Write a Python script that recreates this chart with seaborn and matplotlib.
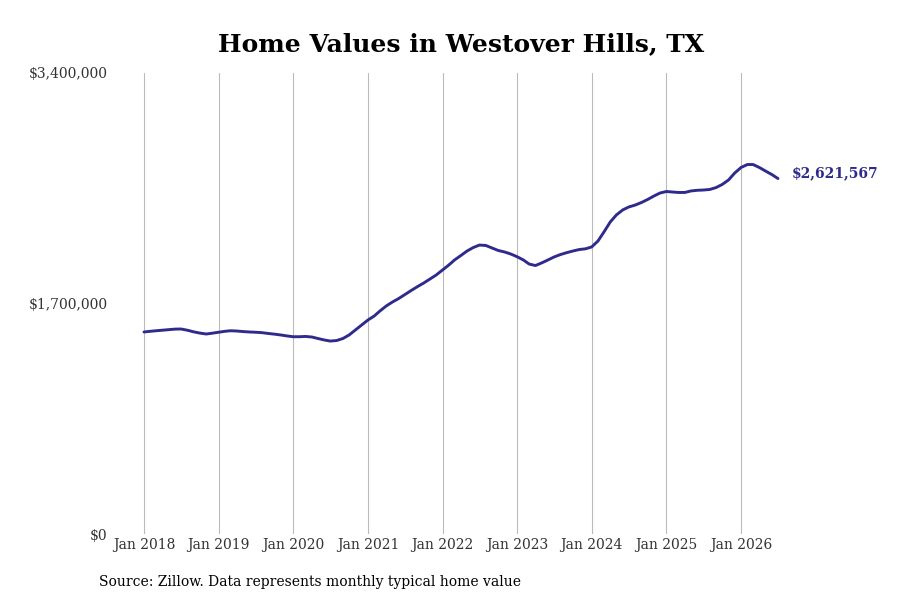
import pandas as pd
import numpy as np
import matplotlib.pyplot as plt
import matplotlib.dates as mdates
import seaborn as sns

# monthly typical home value, Jan 2018 - Jul 2026 (thousands of $)
values_2018 = [1490, 1495, 1499, 1503, 1507, 1511, 1512, 1503, 1491, 1482, 1475, 1481]
values_2019 = [1488, 1495, 1499, 1497, 1493, 1490, 1488, 1485, 1479, 1474, 1468, 1461]
values_2020 = [1455, 1455, 1457, 1453, 1442, 1431, 1423, 1427, 1442, 1468, 1505, 1541]
values_2021 = [1578, 1608, 1645, 1682, 1711, 1737, 1766, 1796, 1825, 1851, 1881, 1910]
values_2022 = [1947, 1984, 2021, 2054, 2087, 2113, 2131, 2128, 2109, 2091, 2080, 2065]
values_2023 = [2045, 2021, 1991, 1980, 1999, 2021, 2043, 2061, 2075, 2087, 2098, 2103]
values_2024 = [2117, 2161, 2227, 2301, 2353, 2390, 2412, 2426, 2445, 2467, 2493, 2515]
values_2025 = [2526, 2522, 2519, 2519, 2530, 2535, 2537, 2541, 2555, 2578, 2611, 2662]
values_2026 = [2703, 2725, 2725, 2703, 2677, 2651, 2621.567]

values = (values_2018 + values_2019 + values_2020 + values_2021 + values_2022
          + values_2023 + values_2024 + values_2025 + values_2026)
dates = pd.date_range("2018-01-01", periods=len(values), freq="MS")
df = pd.DataFrame({"date": dates, "value": np.array(values) * 1000})

tick_years = list(range(2018, 2027))
y_ticks = [0, 1700000, 3400000]
y_labels = ["$0", "$1,700,000", "$3,400,000"]
last_label = "$2,621,567"

sns.set_style("white")
plt.rcParams["font.family"] = ["DejaVu Serif"]

line_color = "#2e2b8c"

fig = plt.figure(figsize=(9, 6), dpi=100)
ax = fig.add_axes([112 / 900, 66 / 600, 768 / 900, 461 / 600])

sns.lineplot(data=df, x="date", y="value", ax=ax, color=line_color, linewidth=2.1)

# x range: Jan 2018 sits 32px in from the left edge
px_per_day = (741 - 144) / 8 / 365.25
x0 = mdates.date2num(pd.Timestamp("2018-01-01"))
ax.set_xlim(x0 - 32 / px_per_day, x0 + (880 - 144) / px_per_day)
ax.set_ylim(0, 3400000)

tick_dates = [pd.Timestamp(f"{y}-01-01") for y in tick_years]
ax.set_xticks(tick_dates)
ax.set_xticklabels([f"Jan {y}" for y in tick_years], fontsize=10, color="#333333")
ax.set_yticks(y_ticks)
ax.set_yticklabels(y_labels, fontsize=10, color="#333333")
ax.tick_params(axis="both", length=0)
ax.tick_params(axis="x", pad=3)
ax.tick_params(axis="y", pad=3)

ax.grid(axis="x", color="#bbbbbb", linewidth=0.8)
ax.grid(axis="y", visible=False)
for s in ax.spines.values():
    s.set_visible(False)
ax.set_xlabel("")
ax.set_ylabel("")

ax.annotate(last_label, xy=(df["date"].iloc[-1], df["value"].iloc[-1]),
            xytext=(10, 4), textcoords="offset points", va="center", ha="left",
            fontsize=10, fontweight="bold", color=line_color)

fig.text(461 / 900, 1 - 44 / 600, "Home Values in Westover Hills, TX",
         ha="center", va="center", fontsize=18, fontweight="bold", color="black")
fig.text(99 / 900, 1 - 582 / 600, "Source: Zillow. Data represents monthly typical home value",
         ha="left", va="center", fontsize=10, color="black")

fig.savefig("out.png", dpi=100)
